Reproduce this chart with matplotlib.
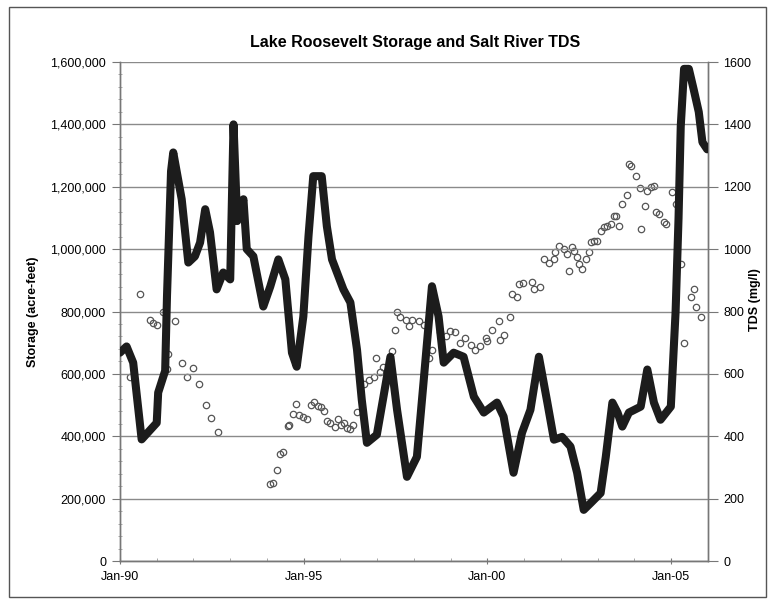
import matplotlib
matplotlib.use("Agg")
import matplotlib.pyplot as plt
from matplotlib.patches import Rectangle
from matplotlib.ticker import FuncFormatter, MultipleLocator

plt.rcParams["font.family"] = ["Liberation Sans", "DejaVu Sans"]

# ─── Data (x in decimal years) ──────────────────────────────────────────────
storage_year = [
    1990.00, 1990.18, 1990.36, 1990.59, 1991.00, 1991.04, 1991.23, 1991.28,
    1991.39, 1991.45, 1991.68, 1991.86, 1992.04, 1992.18, 1992.32, 1992.45,
    1992.63, 1992.81, 1993.00, 1993.09, 1993.19, 1993.36, 1993.45, 1993.63,
    1993.90, 1994.09, 1994.31, 1994.50, 1994.68, 1994.81, 1994.99, 1995.13,
    1995.26, 1995.49, 1995.63, 1995.77, 1996.08, 1996.27, 1996.45, 1996.58,
    1996.72, 1996.99, 1997.36, 1997.54, 1997.81, 1998.08, 1998.26, 1998.49,
    1998.67, 1998.81, 1999.08, 1999.35, 1999.63, 1999.90, 2000.26, 2000.44,
    2000.71, 2000.94, 2001.17, 2001.40, 2001.63, 2001.81, 2002.03, 2002.26,
    2002.44, 2002.62, 2002.81, 2003.08, 2003.22, 2003.40, 2003.54, 2003.67,
    2003.85, 2004.17, 2004.35, 2004.53, 2004.71, 2004.99, 2005.12, 2005.20,
    2005.26, 2005.35, 2005.48, 2005.61, 2005.75, 2005.85, 2005.98,
]
storage_af = [
    668000, 688000, 636000, 390000, 443000, 540000, 610000, 850000,
    1250000, 1310000, 1160000, 957000, 977000, 1021000, 1128000, 1054000,
    871000, 925000, 903000, 1400000, 1090000, 1160000, 1000000, 977000,
    816000, 880000, 967000, 903000, 668000, 623000, 784000, 1041000,
    1234000, 1234000, 1073000, 967000, 871000, 829000, 678000, 517000,
    379000, 405000, 655000, 485000, 270000, 334000, 572000, 881000,
    784000, 636000, 668000, 655000, 527000, 476000, 508000, 463000,
    283000, 411000, 485000, 655000, 508000, 389000, 398000, 367000,
    283000, 164000, 186000, 218000, 334000, 508000, 476000, 431000,
    476000, 495000, 614000, 508000, 453000, 495000, 800000, 1100000,
    1394000, 1578000, 1578000, 1513000, 1440000, 1343000, 1320000,
]

tds_year = [
    1990.27, 1990.54, 1990.82, 1990.90, 1991.00, 1991.18, 1991.27, 1991.32,
    1991.50, 1991.68, 1991.83, 1991.98, 1992.15, 1992.34, 1992.47, 1992.66,
    1994.09, 1994.16, 1994.27, 1994.36, 1994.43, 1994.56, 1994.61, 1994.72,
    1994.80, 1994.88, 1994.97, 1995.10, 1995.20, 1995.29, 1995.38, 1995.47,
    1995.56, 1995.63, 1995.72, 1995.84, 1995.93, 1996.01, 1996.10, 1996.19,
    1996.27, 1996.34, 1996.45, 1996.63, 1996.77, 1996.90, 1996.98, 1997.08,
    1997.17, 1997.40, 1997.49, 1997.54, 1997.63, 1997.77, 1997.86, 1997.95,
    1998.13, 1998.26, 1998.40, 1998.49, 1998.72, 1998.86, 1998.99, 1999.13,
    1999.26, 1999.40, 1999.54, 1999.67, 1999.81, 1999.95, 1999.99, 2000.13,
    2000.31, 2000.33, 2000.44, 2000.61, 2000.67, 2000.81, 2000.85, 2000.97,
    2001.22, 2001.26, 2001.43, 2001.53, 2001.67, 2001.81, 2001.85, 2001.94,
    2002.08, 2002.17, 2002.22, 2002.31, 2002.35, 2002.44, 2002.49, 2002.58,
    2002.67, 2002.76, 2002.81, 2002.89, 2002.99, 2003.08, 2003.17, 2003.26,
    2003.35, 2003.44, 2003.51, 2003.58, 2003.67, 2003.79, 2003.85, 2003.90,
    2004.03, 2004.15, 2004.17, 2004.28, 2004.35, 2004.44, 2004.53, 2004.60,
    2004.67, 2004.80, 2004.85, 2005.03, 2005.12, 2005.26, 2005.35, 2005.53,
    2005.61, 2005.67, 2005.80,
]
tds_mgl = [
    591, 855, 774, 764, 758, 797, 617, 665,
    771, 636, 591, 620, 569, 501, 460, 414,
    247, 251, 292, 344, 350, 434, 437, 472,
    504, 469, 463, 456, 501, 511, 498, 495,
    482, 450, 443, 431, 456, 437, 443, 427,
    424, 437, 479, 566, 581, 591, 652, 607,
    623, 672, 742, 800, 784, 774, 752, 774,
    768, 758, 652, 678, 733, 720, 736, 733,
    700, 716, 694, 678, 688, 716, 704, 742,
    768, 710, 726, 781, 855, 848, 887, 893,
    896, 871, 877, 967, 957, 967, 990, 1009,
    999, 983, 929, 1006, 993, 974, 951, 935,
    967, 990, 1022, 1025, 1025, 1057, 1070, 1073,
    1080, 1105, 1105, 1073, 1144, 1173, 1272, 1266,
    1234, 1195, 1063, 1137, 1186, 1198, 1202, 1118,
    1112, 1086, 1080, 1182, 1144, 951, 700, 845,
    871, 813, 781,
]

x_tick_years = [1990, 1995, 2000, 2005]
x_tick_labels = ["Jan-90", "Jan-95", "Jan-00", "Jan-05"]


def main():
    fig = plt.figure(figsize=(7.69, 6.05), dpi=100)
    ax = fig.add_axes([0.156, 0.0727, 0.7646, 0.8248])
    ax2 = ax.twinx()

    # storage: heavy black line on the left axis
    ax.plot(storage_year, storage_af, color="#1c1c1c", lw=5.8,
            solid_joinstyle="round", solid_capstyle="round", zorder=3)
    ax.set_zorder(ax2.get_zorder() + 1)
    ax.patch.set_visible(False)

    # TDS: open circles on the right axis
    ax2.plot(tds_year, tds_mgl, linestyle="none", marker="o", ms=4.6,
             mfc="none", mec="#555555", mew=0.9)

    ax.set_xlim(1990, 2006.0)
    ax.set_ylim(0, 1600000)
    ax2.set_ylim(0, 1600)

    ax.yaxis.set_major_locator(MultipleLocator(200000))
    ax.yaxis.set_minor_locator(MultipleLocator(40000))
    ax.yaxis.set_major_formatter(FuncFormatter(lambda v, p: f"{int(v):,}"))
    ax2.yaxis.set_major_locator(MultipleLocator(200))

    ax.set_xticks(x_tick_years)
    ax.set_xticklabels(x_tick_labels)
    ax.set_xticks([y for y in range(1991, 2006) if y not in x_tick_years],
                  minor=True)

    ax.grid(axis="y", which="major", color="#8a8a8a", lw=1.0)
    ax.set_axisbelow(True)

    for a in (ax, ax2):
        a.spines["top"].set_visible(False)
        for s in ("left", "right", "bottom"):
            a.spines[s].set_color("#777777")
            a.spines[s].set_linewidth(1.0)

    ax.tick_params(axis="y", which="major", length=6, direction="out",
                   color="#777777", labelsize=9, pad=4)
    ax.tick_params(axis="y", which="minor", length=3, direction="inout",
                   color="#999999")
    ax.tick_params(axis="x", which="major", length=4, direction="inout",
                   color="#777777", labelsize=9, pad=5)
    ax.tick_params(axis="x", which="minor", length=2, direction="in",
                   color="#999999")
    ax2.tick_params(axis="y", which="major", length=7, direction="out",
                    color="#777777", labelsize=9, pad=4)

    ax.set_ylabel("Storage (acre-feet)", fontsize=9, fontweight="bold",
                  labelpad=8)
    # right-hand label sits tight against the frame in the scan
    fig.text(0.982, 0.505, "TDS (mg/l)", rotation=90, ha="center",
             va="center", fontsize=9, fontweight="bold")

    fig.text(0.54, 0.93, "Lake Roosevelt Storage and Salt River TDS",
             ha="center", va="center", fontsize=11.5, fontweight="bold")

    # thin frame round the whole chart, as in the scan
    fig.patches.append(Rectangle((0.012, 0.013), 0.984, 0.975,
                                 transform=fig.transFigure, fill=False,
                                 ec="#555555", lw=1.0))

    fig.savefig("out.png", dpi=100)


if __name__ == "__main__":
    main()
